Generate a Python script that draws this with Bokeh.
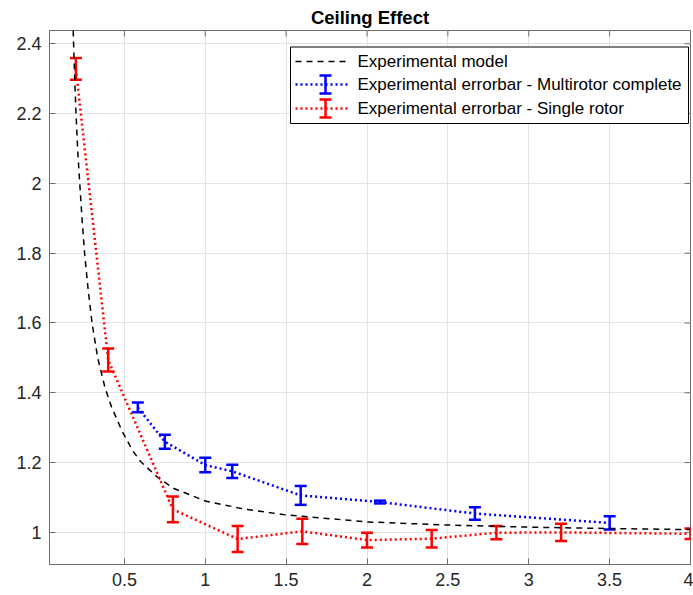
from bokeh.plotting import figure
from bokeh.models import (Range1d, FixedTicker, Whisker, TeeHead,
                          ColumnDataSource, Label, BoxAnnotation, Arrow)
from bokeh.embed import file_html
from bokeh.resources import INLINE

# ---------------- data ----------------
model_x = [0.1835, 0.186, 0.193, 0.201, 0.212, 0.224, 0.238, 0.254, 0.275, 0.30,
           0.335, 0.38, 0.42, 0.486, 0.55, 0.60, 0.70, 0.80, 1.0, 1.25, 1.5,
           2.0, 2.5, 3.0, 3.5, 4.0]
model_y = [2.438, 2.40, 2.30, 2.20, 2.09, 2.00, 1.90, 1.80, 1.70, 1.60,
           1.50, 1.415, 1.36, 1.29, 1.235, 1.203, 1.16, 1.127, 1.09, 1.066, 1.05,
           1.03, 1.021, 1.015, 1.011, 1.008]

multi_x = [0.583, 0.75, 1.0, 1.167, 1.59, 2.08, 2.667, 3.5]
multi_y = [1.358, 1.260, 1.193, 1.175, 1.106, 1.087, 1.054, 1.027]
multi_err = [0.014, 0.020, 0.021, 0.019, 0.027, 0.004, 0.018, 0.019]

single_x = [0.2, 0.4, 0.8, 1.2, 1.6, 2.0, 2.4, 2.8, 3.2, 4.0]
single_y = [2.328, 1.494, 1.066, 0.981, 1.003, 0.978, 0.982, 0.999, 1.000, 0.996]
single_err = [0.031, 0.033, 0.037, 0.037, 0.036, 0.021, 0.025, 0.019, 0.025, 0.015]

x_ticks = [0.5, 1, 1.5, 2, 2.5, 3, 3.5, 4]
x_tick_labels = ["0.5", "1", "1.5", "2", "2.5", "3", "3.5", "4"]
y_ticks = [1, 1.2, 1.4, 1.6, 1.8, 2, 2.2, 2.4]
y_tick_labels = ["1", "1.2", "1.4", "1.6", "1.8", "2", "2.2", "2.4"]

legend_labels = ["Experimental model",
                 "Experimental errorbar - Multirotor complete",
                 "Experimental errorbar - Single rotor"]
title_text = "Ceiling Effect"

# ---------------- layout ----------------
W, H = 693, 595
FL, FR, FT, FB = 49, 690, 30, 564
X_MIN, X_MAX = 0.037, 4.0
Y_MIN, Y_MAX = 0.908, 2.438
FONT = "Liberation Sans"
AXC = "#6e6e6e"
TXC = "#262626"
DOT = "2 3"
DASH = "6 5"
TICK_LEN = 6
EB_W = 2.5
CAP = 12

p = figure(width=W, height=H, output_backend="svg", toolbar_location=None,
           x_range=Range1d(X_MIN, X_MAX), y_range=Range1d(Y_MIN, Y_MAX),
           min_border_left=FL, min_border_right=W - FR,
           min_border_top=FT, min_border_bottom=H - FB,
           title=title_text)
p.background_fill_color = "white"
p.border_fill_color = "white"
p.outline_line_color = AXC
p.outline_line_width = 1

p.title.align = "center"
p.title.text_font = FONT
p.title.text_font_size = "18.5px"
p.title.text_font_style = "bold"
p.title.text_color = "black"
p.title.standoff = 5

def style_axis(ax, ticks, labels):
    ax.ticker = FixedTicker(ticks=ticks)
    ax.major_label_overrides = dict(zip(ticks, labels))
    ax.axis_line_color = AXC
    ax.axis_line_width = 1
    ax.major_tick_line_color = AXC
    ax.major_tick_in = TICK_LEN
    ax.major_tick_out = 0
    ax.minor_tick_line_color = None
    ax.major_label_text_font = FONT
    ax.major_label_text_font_size = "18px"
    ax.major_label_text_color = TXC
    ax.major_label_standoff = 8

style_axis(p.xaxis[0], x_ticks, x_tick_labels)
style_axis(p.yaxis[0], y_ticks, y_tick_labels)

p.xgrid.ticker = FixedTicker(ticks=x_ticks)
p.ygrid.ticker = FixedTicker(ticks=y_ticks)
for g in (p.xgrid[0], p.ygrid[0]):
    g.grid_line_color = "#e3e3e3"
    g.grid_line_width = 1

# box ticks on top and right edges (MATLAB "box on")
dy = TICK_LEN * (Y_MAX - Y_MIN) / (FB - FT)
dx = TICK_LEN * (X_MAX - X_MIN) / (FR - FL)
p.segment(x0=x_ticks, y0=[Y_MAX] * len(x_ticks), x1=x_ticks, y1=[Y_MAX - dy] * len(x_ticks),
          line_color=AXC, line_width=1)
p.segment(x0=[X_MAX] * len(y_ticks), y0=y_ticks, x1=[X_MAX - dx] * len(y_ticks), y1=y_ticks,
          line_color=AXC, line_width=1)

# ---------------- data glyphs ----------------
p.line(model_x, model_y, line_color="black", line_width=1.5, line_dash=DASH)

def errorbar(xs, ys, es, color):
    p.line(xs, ys, line_color=color, line_width=2.5, line_dash=DOT)
    src = ColumnDataSource(dict(x=xs,
                                upper=[y + e for y, e in zip(ys, es)],
                                lower=[y - e for y, e in zip(ys, es)]))
    w = Whisker(source=src, base="x", upper="upper", lower="lower",
                dimension="height", line_color=color, line_width=EB_W,
                upper_head=TeeHead(size=CAP, line_color=color, line_width=EB_W),
                lower_head=TeeHead(size=CAP, line_color=color, line_width=EB_W))
    p.add_layout(w)

errorbar(multi_x, multi_y, multi_err, "#0000ff")
errorbar(single_x, single_y, single_err, "#ff0000")

# ---------------- legend (screen units, frame-relative) ----------------
def sx(px):
    return px - FL

def sy(py):
    return FB - py

p.add_layout(BoxAnnotation(left=sx(290), right=sx(688), top=sy(46.5), bottom=sy(123),
                           left_units="screen", right_units="screen",
                           top_units="screen", bottom_units="screen",
                           fill_color="white", fill_alpha=1.0,
                           line_color="black", line_width=1, line_alpha=1.0))

rows = [61, 84, 108]
styles = [("black", DASH, 1.5, False), ("#0000ff", DOT, 2.5, True),
          ("#ff0000", DOT, 2.5, True)]
for ry, (col, dash, lw, bar), lab in zip(rows, styles, legend_labels):
    p.add_layout(Arrow(x_start=sx(295), y_start=sy(ry), x_end=sx(349), y_end=sy(ry),
                       start_units="screen", end_units="screen", start=None, end=None,
                       line_color=col, line_width=lw, line_dash=dash))
    if bar:
        p.add_layout(Arrow(x_start=sx(325), y_start=sy(ry - 9), x_end=sx(325), y_end=sy(ry + 9),
                           start_units="screen", end_units="screen",
                           start=TeeHead(size=CAP, line_color=col, line_width=EB_W),
                           end=TeeHead(size=CAP, line_color=col, line_width=EB_W),
                           line_color=col, line_width=EB_W))
    p.add_layout(Label(x=sx(357), y=sy(ry), x_units="screen", y_units="screen",
                       text=lab, text_font=FONT, text_font_size="17px",
                       text_baseline="middle", text_align="left", text_color="black"))

open("out.html", "w").write(file_html(p, INLINE))
